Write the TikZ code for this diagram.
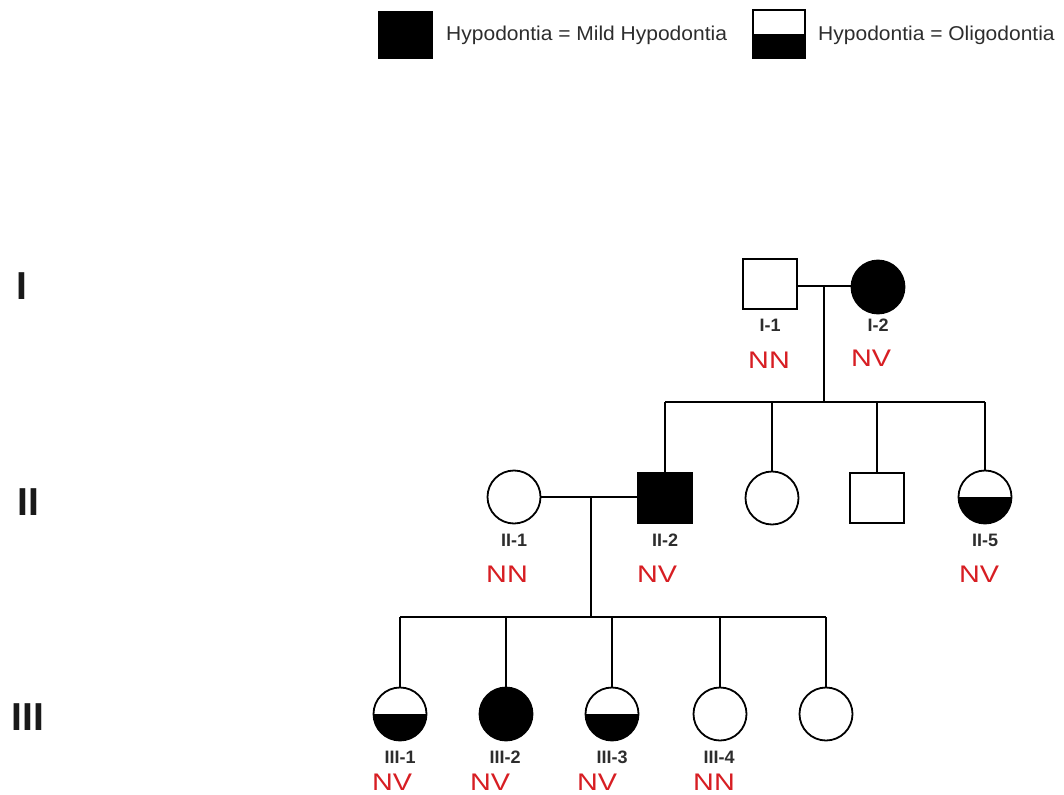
\documentclass[tikz,border=0pt]{standalone}
\usepackage{fontspec}
\setmainfont{Liberation Sans}
\newfontfamily\widefont[FakeStretch=1.2]{Liberation Sans}
\newfontfamily\legfont[FakeStretch=1.05]{Liberation Sans}
\definecolor{nvred}{RGB}{215,30,35}
\definecolor{labgray}{RGB}{45,45,45}
\begin{document}
\begin{tikzpicture}[x=1pt,y=-1pt,
  line width=1.8pt,
  male/.style={draw, rectangle, minimum width=54pt, minimum height=50pt, inner sep=0pt},
  female/.style={draw, circle, minimum size=53pt, inner sep=0pt},
  filled/.style={fill=black},
  halffill/.style={path picture={\fill[black] (path picture bounding box.west) rectangle (path picture bounding box.south east);}},
  idlab/.style={font=\bfseries\fontsize{18}{18}\selectfont, text=labgray},
  geno/.style={font=\widefont\fontsize{24}{24}\selectfont, text=nvred},
  gen/.style={font=\bfseries\fontsize{39}{39}\selectfont, text=black!90},
  legtext/.style={anchor=west, font=\legfont\fontsize{20}{20}\selectfont, text=labgray}]
\useasboundingbox (0,0) rectangle (1064,794);

% legend
\node[draw, fill=black, minimum width=53pt, minimum height=46pt, inner sep=0pt] (leg1) at (405.5,35) {};
\node[legtext] (leg1t) at (442,35) {Hypodontia = Mild Hypodontia};
\node[draw, minimum width=52pt, minimum height=48pt, inner sep=0pt, halffill] (leg2) at (779,34) {};
\node[legtext] (leg2t) at (814,35) {Hypodontia = Oligodontia};

% generation labels
\node[gen] (gI) at (22,286) {I};
\node[gen] (gII) at (28,502) {II};
\node[gen] (gIII) at (28,717) {III};

% generation I
\node[male] (I1) at (770,284) {};
\node[female, filled] (I2) at (878,287) {};
\node[idlab] (I1l) at (770,325) {I-1};
\node[idlab] (I2l) at (878,325) {I-2};
\node[geno] (I1g) at (769,360) {NN};
\node[geno] (I2g) at (871,358) {NV};
\coordinate (m1) at (824,286);
\coordinate (s1) at (824,402);
\coordinate (s1L) at (665,402);
\coordinate (s1R) at (985,402);
\draw (I1.east |- m1) -- (I2.west |- m1);
\draw (m1) -- (s1);
\draw (s1L) -- (s1R);

% generation II
\node[female] (II1) at (514,497) {};
\node[male, filled] (II2) at (665,498) {};
\node[female] (II3) at (772,498) {};
\node[male] (II4) at (877,498) {};
\node[female, halffill] (II5) at (985,497) {};
\node[idlab] (II1l) at (514,540) {II-1};
\node[idlab] (II2l) at (665,540) {II-2};
\node[idlab] (II5l) at (985,540) {II-5};
\node[geno] (II1g) at (507,574) {NN};
\node[geno] (II2g) at (657,574) {NV};
\node[geno] (II5g) at (979,574) {NV};
\foreach \n in {II2,II3,II4,II5} \draw (\n.north) -- (\n.north |- s1);
\coordinate (m2) at (591,497);
\coordinate (s2) at (591,617);
\coordinate (s2L) at (400,617);
\coordinate (s2R) at (826,617);
\draw (II1.east) -- (II2.west |- II1.east);
\draw (m2) -- (s2);
\draw (s2L) -- (s2R);

% generation III
\node[female, halffill] (III1) at (400,714) {};
\node[female, filled] (III2) at (506,714) {};
\node[female, halffill] (III3) at (612,714) {};
\node[female] (III4) at (720,714) {};
\node[female] (III5) at (826,714) {};
\node[idlab] (III1l) at (400,757) {III-1};
\node[idlab] (III2l) at (505,757) {III-2};
\node[idlab] (III3l) at (612,757) {III-3};
\node[idlab] (III4l) at (719,757) {III-4};
\node[geno] (III1g) at (392,782) {NV};
\node[geno] (III2g) at (490,782) {NV};
\node[geno] (III3g) at (597,782) {NV};
\node[geno] (III4g) at (714,782) {NN};
\foreach \n in {III1,III2,III3,III4,III5} \draw (\n.north) -- (\n.north |- s2);
\end{tikzpicture}
\end{document}
